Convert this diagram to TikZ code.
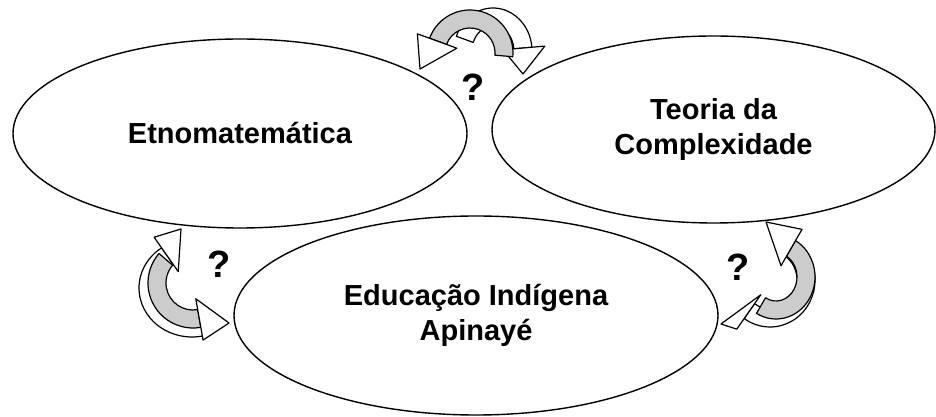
\documentclass[tikz,border=0pt]{standalone}
\usepackage{fontspec}
\setmainfont{Liberation Sans}
\usepackage{tikz}
\usepackage{xcolor}
\usetikzlibrary{calc,shapes.geometric}
\definecolor{bandgray}{HTML}{CCCCCC}
\tikzstyle{bubble} =[
    draw=black,
    fill=white,
    line width=0.7pt,
    ellipse,
    inner sep=0pt,
    align=center,
    font=\fontsize{14.5}{17.5}\selectfont\bfseries
    ]
\tikzstyle{qmark} =[
    font=\fontsize{19}{22}\selectfont\bfseries
    ]
\newcommand{\turnarrow}[7]{% centre, x radius, y radius, start, end, tip, band colour
\pgfmathsetmacro{\rxo}{(#2+9)/2}\pgfmathsetmacro{\ryo}{(#3+9)/2}%
\pgfmathsetmacro{\rxi}{(#2-9)/2}\pgfmathsetmacro{\ryi}{(#3-9)/2}%
\pgfmathsetmacro{\rxh}{(#2+22)/2}\pgfmathsetmacro{\ryh}{(#3+22)/2}%
\pgfmathsetmacro{\rxl}{(#2-20)/2}\pgfmathsetmacro{\ryl}{(#3-20)/2}%
\filldraw[fill=#7, line width=0.6pt, line join=round]
    ($(#1)+(#4:{\rxo pt} and {\ryo pt})$)
    arc[start angle=#4, end angle=#5, x radius=\rxo pt, y radius=\ryo pt]
    -- ($(#1)+(#5:{\rxi pt} and {\ryi pt})$)
    arc[start angle=#5, end angle=#4, x radius=\rxi pt, y radius=\ryi pt] -- cycle;
\filldraw[fill=white, line width=0.6pt, line join=round]
    ($(#1)+(#5:{\rxh pt} and {\ryh pt})$) -- (#6)
    -- ($(#1)+(#5:{\rxl pt} and {\ryl pt})$) -- cycle;
}

\begin{document}
\begin{tikzpicture}[x=0.5pt, y=0.5pt]
\useasboundingbox (0,0) rectangle (936,417);

% the three fields
\node [bubble, minimum width=227pt, minimum height=94.5pt] (etno) at (240,283.5) {Etnomatem\'atica};
\node [bubble, minimum width=221.5pt, minimum height=93.5pt] (complex) at (713.5,287.5) {Teoria da\\Complexidade};
\node [bubble, minimum width=242pt, minimum height=99.5pt] (apinaye) at (476,101.5) {Educa\c{c}\~ao Ind\'igena\\Apinay\'e};

% question marks
\node [qmark] (qtop) at (473,330) {?};
\node [qmark] (qleft) at (219,153) {?};
\node [qmark] (qright) at (738,150) {?};

% curved arrows
\turnarrow{493,366}{30}{34}{160}{5}{523,343}{white}
\turnarrow{470,364}{34}{34}{-5}{160}{420,348}{bandgray}
\turnarrow{192,129}{44}{40}{-70}{-235}{181,188}{white}
\turnarrow{193,134}{36}{36}{-221}{-80}{229,94}{bandgray}
\turnarrow{770,137}{36}{38}{60}{-125}{721,93}{white}
\turnarrow{776,140}{30}{33}{-120}{60}{766,195}{bandgray}
\end{tikzpicture}
\end{document}
